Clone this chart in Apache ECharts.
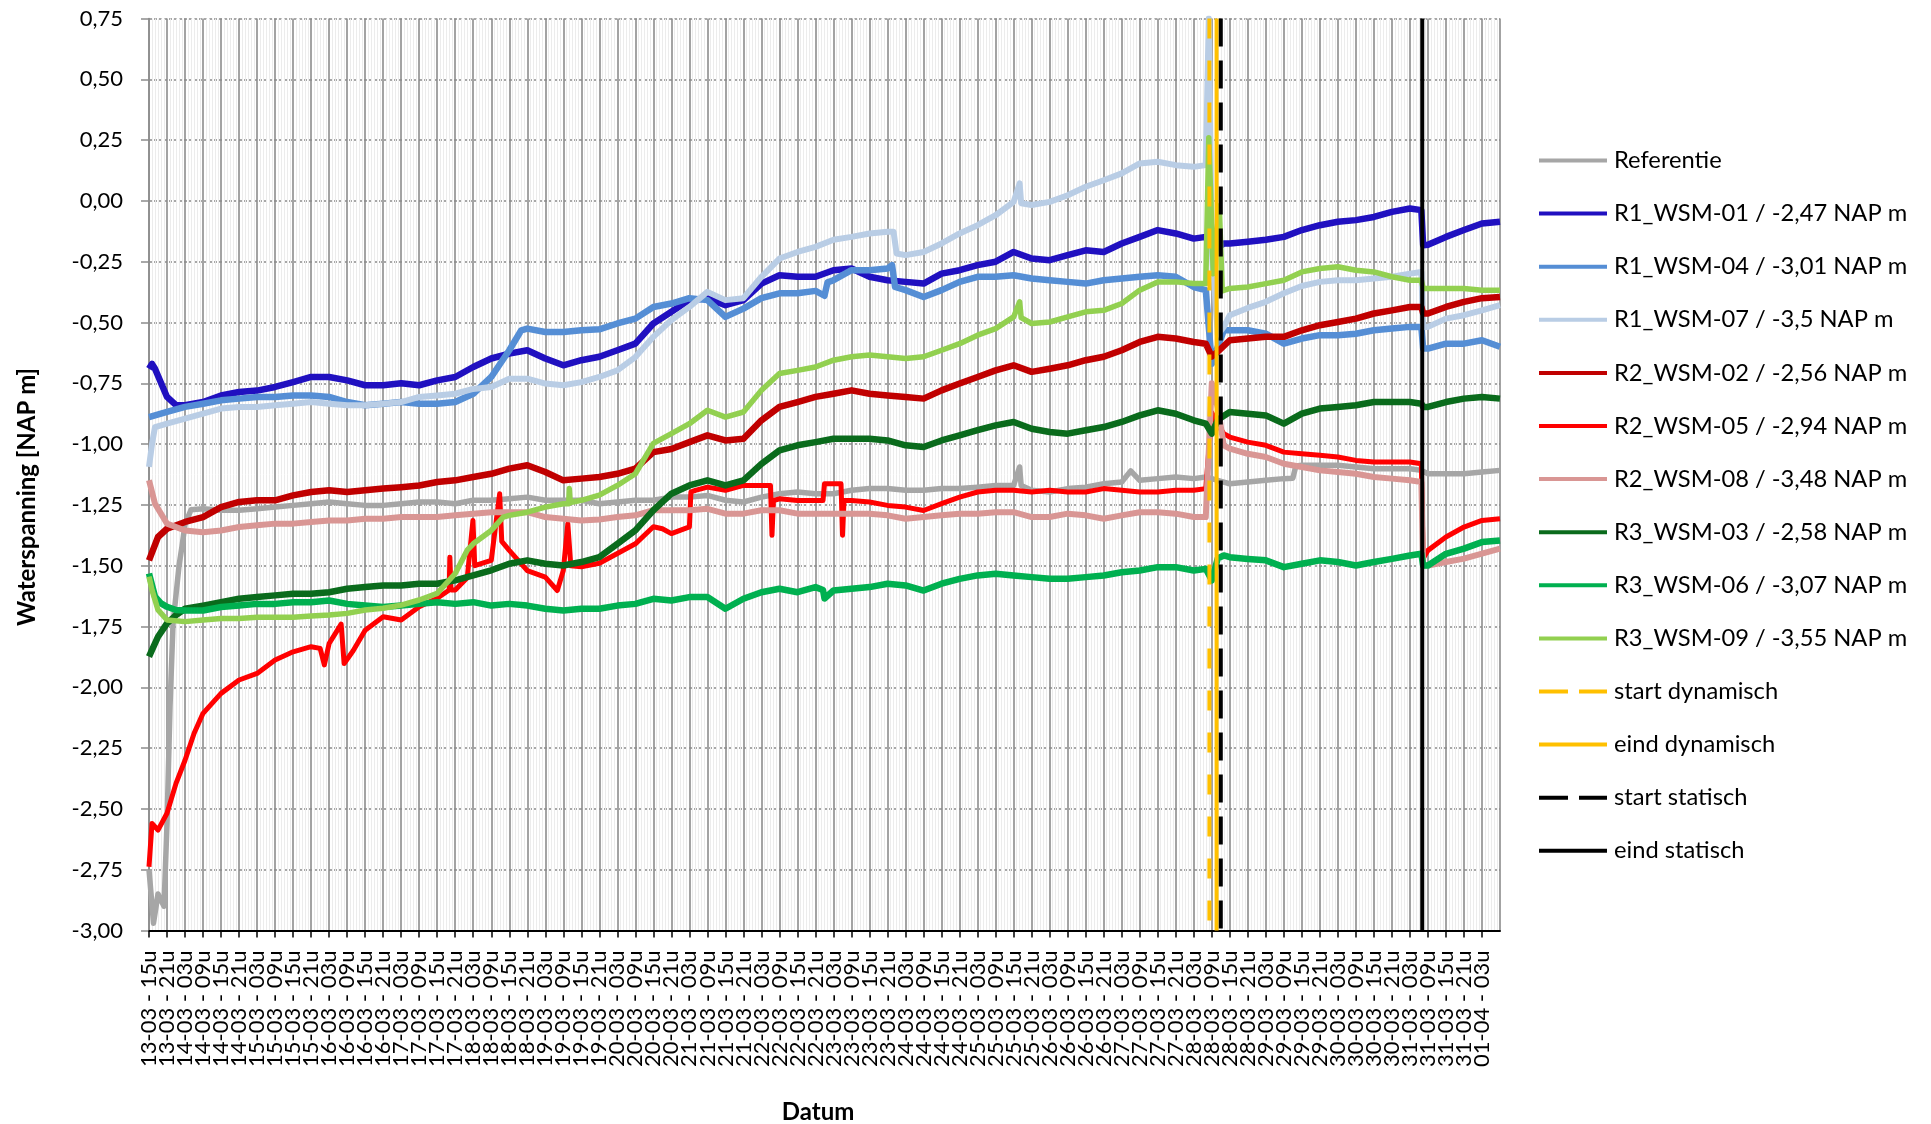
<!DOCTYPE html>
<html><head><meta charset="utf-8">
<script src="https://cdn.jsdelivr.net/npm/echarts@6/dist/echarts.min.js"></script>
<style>html,body{margin:0;padding:0;background:#fff}#c{width:1931px;height:1124px}</style>
</head><body><div id="c"></div>
<script>
// x axis: hours since 13-03 00:00, ticks every 6 hours
const X_LABELS = [
 '13-03 - 15u','13-03 - 21u',
 '14-03 - 03u','14-03 - 09u','14-03 - 15u','14-03 - 21u',
 '15-03 - 03u','15-03 - 09u','15-03 - 15u','15-03 - 21u',
 '16-03 - 03u','16-03 - 09u','16-03 - 15u','16-03 - 21u',
 '17-03 - 03u','17-03 - 09u','17-03 - 15u','17-03 - 21u',
 '18-03 - 03u','18-03 - 09u','18-03 - 15u','18-03 - 21u',
 '19-03 - 03u','19-03 - 09u','19-03 - 15u','19-03 - 21u',
 '20-03 - 03u','20-03 - 09u','20-03 - 15u','20-03 - 21u',
 '21-03 - 03u','21-03 - 09u','21-03 - 15u','21-03 - 21u',
 '22-03 - 03u','22-03 - 09u','22-03 - 15u','22-03 - 21u',
 '23-03 - 03u','23-03 - 09u','23-03 - 15u','23-03 - 21u',
 '24-03 - 03u','24-03 - 09u','24-03 - 15u','24-03 - 21u',
 '25-03 - 03u','25-03 - 09u','25-03 - 15u','25-03 - 21u',
 '26-03 - 03u','26-03 - 09u','26-03 - 15u','26-03 - 21u',
 '27-03 - 03u','27-03 - 09u','27-03 - 15u','27-03 - 21u',
 '28-03 - 03u','28-03 - 09u','28-03 - 15u','28-03 - 21u',
 '29-03 - 03u','29-03 - 09u','29-03 - 15u','29-03 - 21u',
 '30-03 - 03u','30-03 - 09u','30-03 - 15u','30-03 - 21u',
 '31-03 - 03u','31-03 - 09u','31-03 - 15u','31-03 - 21u',
 '01-04 - 03u'
];
const X_MIN = 15, X_MAX = 465, X_STEP = 6;
const Y_MIN = -3, Y_MAX = 0.75, Y_STEP = 0.25;

const SERIES_NAMES = ['Referentie','R1_WSM-01 / -2,47 NAP m','R1_WSM-04 / -3,01 NAP m','R1_WSM-07 / -3,5 NAP m',
 'R2_WSM-02 / -2,56 NAP m','R2_WSM-05 / -2,94 NAP m','R2_WSM-08 / -3,48 NAP m',
 'R3_WSM-03 / -2,58 NAP m','R3_WSM-06 / -3,07 NAP m','R3_WSM-09 / -3,55 NAP m'];
const SERIES_COLORS = ['#a6a6a6','#2010c0','#558ed5','#b9cde5','#c00000','#ff0000','#d99694','#0a6b1c','#00b050','#92d050'];
const SERIES_WIDTHS = [5.5, 6.5, 6.5, 6, 6.5, 5, 6, 6.5, 6.5, 5.5];

// [hour, NAP m]
const REF = [[15,-2.75],[16.5,-2.97],[18,-2.85],[20,-2.90],[21,-2.56],[22,-2.08],[23,-1.74],[25,-1.50],[26,-1.42],[27,-1.33],[29,-1.27],[33,-1.266],[39,-1.272],[45,-1.272],[51,-1.266],[57,-1.259],[63,-1.252],[69,-1.245],[75,-1.238],[81,-1.245],[87,-1.252],[93,-1.252],[99,-1.245],[105,-1.238],[111,-1.238],[117,-1.245],[123,-1.231],[129,-1.231],[135,-1.225],[141,-1.218],[147,-1.231],[153,-1.231],[159,-1.231],[165,-1.245],[171,-1.238],[177,-1.231],[183,-1.231],[189,-1.218],[195,-1.218],[201,-1.211],[207,-1.231],[213,-1.238],[219,-1.218],[225,-1.204],[231,-1.197],[237,-1.204],[243,-1.204],[249,-1.19],[255,-1.183],[261,-1.183],[267,-1.19],[273,-1.19],[279,-1.183],[285,-1.183],[291,-1.177],[297,-1.17],[303,-1.17],[305,-1.094],[305.5,-1.17],[309,-1.19],[315,-1.197],[321,-1.183],[327,-1.177],[333,-1.163],[339,-1.156],[342,-1.11],[345,-1.149],[351,-1.142],[357,-1.135],[363,-1.142],[367,-1.135],[373,-1.156],[375,-1.163],[381,-1.156],[387,-1.149],[393,-1.142],[396,-1.14],[397,-1.09],[399,-1.087],[405,-1.087],[411,-1.087],[417,-1.094],[423,-1.101],[429,-1.101],[435,-1.101],[438.8,-1.108],[441,-1.122],[447,-1.122],[453,-1.122],[459,-1.115],[465,-1.108]];
const R1_01 = [[15,-0.69],[16,-0.67],[17,-0.69],[21,-0.806],[24,-0.84],[27,-0.84],[33,-0.827],[39,-0.80],[45,-0.786],[51,-0.78],[57,-0.765],[63,-0.745],[69,-0.724],[75,-0.724],[81,-0.738],[87,-0.758],[93,-0.758],[99,-0.75],[105,-0.758],[111,-0.738],[117,-0.724],[123,-0.683],[129,-0.648],[135,-0.628],[141,-0.614],[147,-0.648],[153,-0.676],[159,-0.655],[165,-0.641],[171,-0.614],[177,-0.587],[183,-0.504],[189,-0.456],[195,-0.408],[201,-0.40],[207,-0.429],[213,-0.408],[219,-0.34],[225,-0.306],[231,-0.312],[237,-0.312],[243,-0.285],[249,-0.278],[255,-0.312],[261,-0.326],[267,-0.333],[273,-0.34],[279,-0.299],[285,-0.285],[291,-0.264],[297,-0.25],[303,-0.21],[309,-0.237],[315,-0.244],[321,-0.223],[327,-0.203],[333,-0.21],[339,-0.175],[345,-0.148],[351,-0.12],[357,-0.134],[363,-0.155],[367,-0.148],[370,-0.20],[373,-0.175],[375,-0.175],[381,-0.168],[387,-0.16],[393,-0.148],[399,-0.12],[405,-0.10],[411,-0.086],[417,-0.079],[423,-0.066],[429,-0.045],[435,-0.031],[438.8,-0.038],[439.4,-0.182],[441,-0.18],[447,-0.148],[453,-0.12],[459,-0.093],[465,-0.086]];
const R1_04 = [[15,-0.889],[21,-0.868],[27,-0.847],[33,-0.834],[39,-0.82],[45,-0.813],[51,-0.806],[57,-0.806],[63,-0.80],[69,-0.80],[75,-0.806],[81,-0.827],[87,-0.84],[93,-0.834],[99,-0.827],[105,-0.834],[111,-0.834],[117,-0.827],[123,-0.793],[129,-0.724],[135,-0.614],[139,-0.532],[141,-0.525],[147,-0.539],[153,-0.539],[159,-0.532],[165,-0.528],[171,-0.504],[177,-0.484],[183,-0.436],[189,-0.422],[195,-0.40],[201,-0.408],[207,-0.477],[213,-0.443],[219,-0.40],[225,-0.38],[231,-0.38],[237,-0.37],[240,-0.39],[241,-0.335],[243,-0.326],[249,-0.285],[255,-0.285],[261,-0.278],[262.5,-0.264],[263.5,-0.354],[267,-0.367],[273,-0.395],[279,-0.367],[285,-0.333],[291,-0.312],[297,-0.312],[303,-0.306],[309,-0.319],[315,-0.326],[321,-0.333],[327,-0.34],[333,-0.326],[339,-0.319],[345,-0.312],[351,-0.306],[357,-0.312],[363,-0.354],[367,-0.367],[369,-0.67],[371,-0.60],[373,-0.532],[375,-0.532],[381,-0.532],[387,-0.546],[393,-0.587],[399,-0.566],[405,-0.552],[411,-0.552],[417,-0.546],[423,-0.532],[429,-0.525],[435,-0.518],[438.8,-0.518],[439.4,-0.607],[441,-0.607],[447,-0.587],[453,-0.587],[459,-0.573],[465,-0.60]];
const R1_07 = [[15,-1.094],[16,-1.00],[17,-0.93],[21,-0.916],[27,-0.895],[33,-0.875],[39,-0.854],[45,-0.847],[51,-0.847],[57,-0.84],[63,-0.834],[69,-0.827],[75,-0.834],[81,-0.84],[87,-0.84],[93,-0.834],[99,-0.827],[105,-0.806],[111,-0.80],[117,-0.793],[123,-0.773],[129,-0.765],[135,-0.731],[141,-0.731],[147,-0.751],[153,-0.758],[159,-0.745],[165,-0.724],[171,-0.697],[177,-0.642],[183,-0.559],[189,-0.49],[195,-0.436],[201,-0.374],[207,-0.408],[213,-0.40],[219,-0.312],[225,-0.237],[231,-0.21],[237,-0.189],[243,-0.16],[249,-0.148],[255,-0.134],[261,-0.127],[263,-0.127],[264,-0.216],[267,-0.223],[273,-0.21],[279,-0.175],[285,-0.134],[291,-0.10],[297,-0.059],[303,-0.004],[305,0.072],[305.5,-0.01],[309,-0.017],[315,-0.004],[321,0.023],[327,0.058],[333,0.085],[339,0.113],[345,0.154],[351,0.161],[357,0.147],[363,0.14],[367,0.147],[368,0.75],[369,-0.2],[371,-0.55],[373,-0.518],[375,-0.47],[381,-0.44],[387,-0.415],[393,-0.38],[399,-0.35],[405,-0.333],[411,-0.326],[417,-0.326],[423,-0.319],[429,-0.312],[435,-0.299],[438.8,-0.292],[439.4,-0.518],[441,-0.518],[447,-0.484],[453,-0.47],[459,-0.45],[465,-0.429]];
const R2_02 = [[15,-1.478],[18,-1.382],[21,-1.348],[27,-1.32],[33,-1.30],[39,-1.259],[45,-1.238],[51,-1.231],[57,-1.231],[63,-1.211],[69,-1.197],[75,-1.19],[81,-1.197],[87,-1.19],[93,-1.183],[99,-1.177],[105,-1.17],[111,-1.156],[117,-1.149],[123,-1.135],[129,-1.122],[135,-1.101],[141,-1.087],[147,-1.115],[153,-1.149],[159,-1.142],[165,-1.135],[171,-1.122],[177,-1.101],[183,-1.033],[189,-1.02],[195,-0.992],[201,-0.964],[207,-0.985],[213,-0.978],[219,-0.902],[225,-0.847],[231,-0.827],[237,-0.806],[243,-0.793],[249,-0.779],[255,-0.793],[261,-0.80],[267,-0.806],[273,-0.813],[279,-0.779],[285,-0.751],[291,-0.724],[297,-0.697],[303,-0.676],[309,-0.703],[315,-0.69],[321,-0.676],[327,-0.655],[333,-0.641],[339,-0.614],[345,-0.58],[351,-0.559],[357,-0.566],[363,-0.58],[367,-0.587],[369,-0.64],[371,-0.62],[375,-0.573],[381,-0.566],[387,-0.559],[393,-0.559],[399,-0.532],[405,-0.511],[411,-0.498],[417,-0.484],[423,-0.463],[429,-0.45],[435,-0.436],[438.8,-0.436],[439.4,-0.463],[441,-0.463],[447,-0.436],[453,-0.415],[459,-0.40],[465,-0.395]];
const R2_05 = [[15,-2.738],[16,-2.56],[18,-2.587],[21,-2.518],[24,-2.395],[27,-2.30],[30,-2.19],[33,-2.107],[36,-2.066],[39,-2.025],[45,-1.97],[51,-1.943],[57,-1.888],[63,-1.854],[69,-1.833],[72,-1.84],[73.4,-1.908],[75,-1.82],[79,-1.74],[80,-1.902],[83,-1.85],[87,-1.765],[93,-1.71],[99,-1.723],[105,-1.669],[111,-1.634],[115,-1.60],[115.2,-1.465],[115.6,-1.60],[117,-1.60],[121,-1.55],[122.9,-1.314],[123.5,-1.50],[129,-1.478],[131.8,-1.204],[132.5,-1.40],[135,-1.437],[141,-1.52],[147,-1.547],[151,-1.602],[153,-1.52],[154.5,-1.327],[155.5,-1.50],[159,-1.504],[165,-1.49],[171,-1.45],[177,-1.41],[183,-1.34],[186,-1.348],[189,-1.368],[195,-1.34],[195.5,-1.197],[197,-1.19],[201,-1.177],[207,-1.19],[213,-1.17],[219,-1.17],[222,-1.17],[222.5,-1.375],[223,-1.232],[225,-1.225],[231,-1.232],[237,-1.232],[239.5,-1.232],[240,-1.163],[243,-1.163],[245.5,-1.163],[246,-1.375],[246.5,-1.232],[249,-1.232],[255,-1.238],[261,-1.252],[267,-1.259],[273,-1.273],[279,-1.245],[285,-1.218],[291,-1.197],[297,-1.19],[303,-1.19],[309,-1.197],[315,-1.19],[321,-1.197],[327,-1.197],[333,-1.183],[339,-1.19],[345,-1.197],[351,-1.197],[357,-1.19],[363,-1.19],[367,-1.183],[369,-0.87],[371,-0.92],[373,-0.957],[375,-0.971],[381,-0.992],[387,-1.005],[393,-1.033],[399,-1.04],[405,-1.046],[411,-1.053],[417,-1.067],[423,-1.074],[429,-1.074],[435,-1.074],[438.8,-1.081],[439.4,-1.47],[441,-1.437],[447,-1.382],[453,-1.341],[459,-1.314],[465,-1.307]];
const R2_08 = [[15,-1.149],[17,-1.245],[21,-1.327],[27,-1.355],[33,-1.362],[39,-1.355],[45,-1.341],[51,-1.334],[57,-1.327],[63,-1.327],[69,-1.32],[75,-1.314],[81,-1.314],[87,-1.307],[93,-1.307],[99,-1.30],[105,-1.30],[111,-1.30],[117,-1.293],[123,-1.286],[129,-1.28],[135,-1.28],[141,-1.28],[147,-1.30],[153,-1.307],[159,-1.314],[165,-1.31],[171,-1.30],[177,-1.293],[183,-1.272],[189,-1.272],[195,-1.272],[201,-1.266],[207,-1.286],[213,-1.286],[219,-1.272],[225,-1.272],[231,-1.286],[237,-1.286],[243,-1.286],[249,-1.286],[255,-1.286],[261,-1.293],[267,-1.307],[273,-1.30],[279,-1.293],[285,-1.286],[291,-1.286],[297,-1.28],[303,-1.28],[309,-1.30],[315,-1.30],[321,-1.286],[327,-1.293],[333,-1.307],[339,-1.293],[345,-1.28],[351,-1.28],[357,-1.286],[363,-1.30],[367,-1.30],[369,-0.75],[371,-0.85],[373,-1.005],[375,-1.019],[381,-1.04],[387,-1.053],[393,-1.081],[399,-1.094],[405,-1.108],[411,-1.115],[417,-1.122],[423,-1.135],[429,-1.142],[435,-1.149],[438.8,-1.156],[439.4,-1.499],[441,-1.499],[447,-1.485],[453,-1.471],[459,-1.45],[465,-1.43]];
const R3_03 = [[15,-1.874],[18,-1.792],[21,-1.737],[24,-1.703],[27,-1.677],[33,-1.664],[39,-1.65],[45,-1.636],[51,-1.629],[57,-1.622],[63,-1.615],[69,-1.615],[75,-1.609],[81,-1.595],[87,-1.588],[93,-1.581],[99,-1.581],[105,-1.574],[111,-1.574],[117,-1.56],[123,-1.54],[129,-1.519],[135,-1.492],[141,-1.478],[147,-1.492],[153,-1.499],[159,-1.485],[165,-1.465],[171,-1.41],[177,-1.355],[183,-1.272],[189,-1.204],[195,-1.17],[201,-1.149],[207,-1.17],[213,-1.149],[219,-1.081],[225,-1.026],[231,-1.005],[237,-0.992],[243,-0.978],[249,-0.978],[255,-0.978],[261,-0.985],[267,-1.005],[273,-1.012],[279,-0.985],[285,-0.964],[291,-0.943],[297,-0.923],[303,-0.909],[309,-0.937],[315,-0.95],[321,-0.957],[327,-0.943],[333,-0.93],[339,-0.909],[345,-0.882],[351,-0.861],[357,-0.875],[363,-0.902],[367,-0.916],[369,-0.957],[371,-0.90],[375,-0.868],[381,-0.875],[387,-0.882],[393,-0.916],[399,-0.875],[405,-0.854],[411,-0.847],[417,-0.84],[423,-0.827],[429,-0.827],[435,-0.827],[438.8,-0.834],[439.4,-0.847],[441,-0.847],[447,-0.827],[453,-0.813],[459,-0.806],[465,-0.813]];
const R3_06 = [[15,-1.532],[17,-1.627],[19,-1.655],[21,-1.669],[24,-1.682],[27,-1.684],[33,-1.684],[39,-1.67],[45,-1.664],[51,-1.657],[57,-1.657],[63,-1.65],[69,-1.65],[75,-1.643],[81,-1.657],[87,-1.664],[93,-1.67],[99,-1.664],[105,-1.657],[111,-1.65],[117,-1.657],[123,-1.65],[129,-1.664],[135,-1.657],[141,-1.664],[147,-1.677],[153,-1.684],[159,-1.677],[165,-1.677],[171,-1.664],[177,-1.657],[183,-1.636],[189,-1.643],[195,-1.629],[201,-1.629],[207,-1.677],[213,-1.636],[219,-1.609],[225,-1.595],[231,-1.609],[237,-1.588],[239.5,-1.60],[240,-1.635],[243,-1.602],[249,-1.595],[255,-1.588],[261,-1.574],[267,-1.581],[273,-1.602],[279,-1.574],[285,-1.554],[291,-1.54],[297,-1.533],[303,-1.54],[309,-1.547],[315,-1.554],[321,-1.554],[327,-1.547],[333,-1.54],[339,-1.527],[345,-1.52],[351,-1.506],[357,-1.506],[363,-1.52],[367,-1.513],[369,-1.56],[371,-1.47],[373,-1.458],[375,-1.465],[381,-1.472],[387,-1.478],[393,-1.506],[399,-1.492],[405,-1.478],[411,-1.485],[417,-1.499],[423,-1.485],[429,-1.472],[435,-1.458],[438.8,-1.451],[439.4,-1.499],[441,-1.499],[447,-1.451],[453,-1.43],[459,-1.403],[465,-1.396]];
const R3_09 = [[15,-1.545],[16,-1.60],[18,-1.682],[21,-1.723],[27,-1.73],[33,-1.723],[39,-1.717],[45,-1.717],[51,-1.712],[57,-1.712],[63,-1.712],[69,-1.707],[75,-1.703],[81,-1.696],[87,-1.682],[93,-1.675],[99,-1.662],[105,-1.641],[111,-1.614],[117,-1.532],[121,-1.436],[123,-1.41],[129,-1.355],[133,-1.30],[135,-1.293],[141,-1.28],[147,-1.259],[153,-1.245],[154.8,-1.245],[155,-1.183],[155.3,-1.24],[159,-1.231],[165,-1.21],[171,-1.17],[177,-1.122],[183,-0.997],[189,-0.957],[195,-0.916],[201,-0.861],[207,-0.889],[213,-0.868],[219,-0.779],[225,-0.71],[231,-0.697],[237,-0.683],[243,-0.655],[249,-0.641],[255,-0.634],[261,-0.641],[267,-0.648],[273,-0.641],[279,-0.614],[285,-0.587],[291,-0.552],[297,-0.525],[303,-0.477],[305,-0.415],[305.5,-0.48],[309,-0.504],[315,-0.498],[321,-0.477],[327,-0.456],[333,-0.45],[339,-0.422],[345,-0.367],[351,-0.333],[357,-0.333],[363,-0.34],[367,-0.34],[368,0.26],[369.5,-0.30],[371.5,-0.02],[372.5,-0.37],[375,-0.36],[381,-0.354],[387,-0.34],[393,-0.326],[399,-0.292],[405,-0.278],[411,-0.271],[417,-0.285],[423,-0.292],[429,-0.312],[435,-0.326],[438.8,-0.326],[439.4,-0.36],[441,-0.36],[447,-0.36],[453,-0.36],[459,-0.367],[465,-0.367]];
const SERIES_DATA = [REF, R1_01, R1_04, R1_07, R2_02, R2_05, R2_08, R3_03, R3_06, R3_09];

// event moments (hours since 13-03 00:00)
const EVENT_NAMES = ['start dynamisch','eind dynamisch','start statisch','eind statisch'];
const EVENT_HOURS = [368.2, 370.6, 372.0, 439.1];
const EVENT_COLORS = ['#ffc000','#ffc000','#000000','#000000'];
const EVENT_DASHED = [true, false, true, false];

const FONT = 'Lato';
const ICON_SOLID = 'path://M0,0H68V4H0Z';
const ICON_DASHED = 'path://M0,0H29V4H0Z M40,0H68V4H40Z';

const chart = echarts.init(document.getElementById('c'), null, {renderer: 'canvas'});

const series = SERIES_DATA.map((d, i) => ({
  name: SERIES_NAMES[i], type: 'line', data: d, symbol: 'none', showSymbol: false, xAxisIndex: 0,
  lineStyle: {color: SERIES_COLORS[i], width: SERIES_WIDTHS[i], join: 'round'}, itemStyle: {color: SERIES_COLORS[i]},
  emphasis: {disabled: true}, clip: true, z: 3
}));
EVENT_HOURS.forEach((h, i) => {
  series.push({
    name: EVENT_NAMES[i], type: 'line', data: [[h, Y_MAX], [h, Y_MIN]], symbol: 'none', showSymbol: false, xAxisIndex: 0,
    lineStyle: {color: EVENT_COLORS[i], width: 4, type: EVENT_DASHED[i] ? (i === 0 ? [20, 22] : [28, 14]) : 'solid'},
    itemStyle: {color: EVENT_COLORS[i]}, emphasis: {disabled: true}, z: 4
  });
});

const legendData = SERIES_NAMES.map(n => ({name: n, icon: ICON_SOLID}))
  .concat(EVENT_NAMES.map((n, i) => ({name: n, icon: EVENT_DASHED[i] ? ICON_DASHED : ICON_SOLID})));

const labelBase = {rotate: 90, margin: 20, fontSize: 22, color: '#000', fontFamily: FONT};
const labelAt = v => X_LABELS[Math.round((v - X_MIN) / X_STEP)] || '';

chart.setOption({
  animation: false,
  backgroundColor: '#ffffff',
  textStyle: {fontFamily: FONT},
  grid: {left: 149, right: 431, top: 18.5, bottom: 193.5, containLabel: false},
  xAxis: [{
    type: 'value', min: X_MIN, max: X_MAX, interval: X_STEP, position: 'bottom',
    axisLine: {show: true, onZero: false, lineStyle: {color: '#000', width: 2}},
    axisTick: {show: true, length: 7, lineStyle: {color: '#000', width: 1.5}},
    axisLabel: Object.assign({}, labelBase, {showMaxLabel: false,
      formatter: v => (v === X_MIN ? '' : labelAt(v))}),
    splitLine: {show: true, lineStyle: {color: '#8c8c8c', width: 1.6}},
    minorTick: {show: false, splitNumber: 6},
    minorSplitLine: {show: true, lineStyle: {color: '#ececec', width: 1}}
  }, {
    // carries only the first tick label
    type: 'value', min: X_MIN, max: X_MAX, interval: X_STEP, position: 'bottom', offset: 0,
    axisLine: {show: false}, axisTick: {show: false}, splitLine: {show: false},
    axisLabel: Object.assign({}, labelBase, {showMinLabel: true, showMaxLabel: false,
      formatter: v => (v === X_MIN ? labelAt(v) : '')})
  }],
  yAxis: {
    type: 'value', min: Y_MIN, max: Y_MAX, interval: Y_STEP,
    axisLine: {show: true, onZero: false, lineStyle: {color: '#8c8c8c', width: 1.6}},
    axisTick: {show: true, length: 8, lineStyle: {color: '#8c8c8c', width: 1.5}},
    axisLabel: {margin: 26, fontSize: 22, color: '#000', fontFamily: FONT,
      formatter: v => v.toFixed(2).replace('.', ',')},
    splitLine: {show: true, lineStyle: {color: '#8a8a8a', width: 1.5, type: [3, 2]}}
  },
  legend: {
    orient: 'vertical', left: 1539, top: 148.5, padding: 0, itemWidth: 68, itemHeight: 4, itemGap: 29.1,
    textStyle: {fontSize: 23.7, color: '#000', fontFamily: FONT, padding: [0, 0, 0, 2]},
    data: legendData, selectedMode: false
  },
  graphic: [
    {type: 'text', x: 27, y: 497, rotation: Math.PI / 2,
      style: {text: 'Waterspanning [NAP m]', font: 'bold 24px ' + FONT, fill: '#000', textAlign: 'center', textVerticalAlign: 'middle'}},
    {type: 'text', x: 818, y: 1112,
      style: {text: 'Datum', font: 'bold 24px ' + FONT, fill: '#000', textAlign: 'center', textVerticalAlign: 'middle'}}
  ],
  series: series
});
</script></body></html>
